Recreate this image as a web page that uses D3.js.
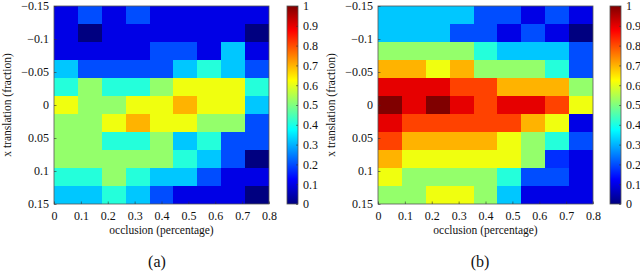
<!DOCTYPE html>
<html>
<head>
<meta charset="utf-8">
<script src="https://cdn.jsdelivr.net/npm/d3@7"></script>
<style>
  body { margin: 0; background: #fff; }
  svg text { font-family: "Liberation Serif", "Times New Roman", "DejaVu Serif", serif !important; fill: #111; }
</style>
</head>
<body>
<svg id="chart" width="640" height="272"></svg>
<script>

// tick labels
const occlusionTicks = [0, 0.1, 0.2, 0.3, 0.4, 0.5, 0.6, 0.7, 0.8];
const translationTicks = [-0.15, -0.1, -0.05, 0, 0.05, 0.1, 0.15];
const colorTicks = [0, 0.1, 0.2, 0.3, 0.4, 0.5, 0.6, 0.7, 0.8, 0.9, 1];

// grid size (columns = occlusion, rows = translation)
const nCols = 9;
const nRows = 11;

// accuracy, rows from translation -0.15 (top) to 0.15 (bottom)
const accuracyA = [
  [0.10, 0.20, 0.10, 0.20, 0.10, 0.10, 0.10, 0.10, 0.10],
  [0.10, 0.00, 0.10, 0.10, 0.10, 0.10, 0.10, 0.10, 0.00],
  [0.10, 0.10, 0.10, 0.10, 0.20, 0.20, 0.10, 0.32, 0.10],
  [0.32, 0.20, 0.20, 0.20, 0.20, 0.32, 0.41, 0.32, 0.20],
  [0.41, 0.52, 0.41, 0.41, 0.52, 0.61, 0.61, 0.61, 0.41],
  [0.61, 0.52, 0.52, 0.61, 0.61, 0.70, 0.61, 0.61, 0.32],
  [0.52, 0.52, 0.61, 0.70, 0.61, 0.61, 0.52, 0.52, 0.20],
  [0.52, 0.52, 0.41, 0.41, 0.52, 0.32, 0.41, 0.20, 0.20],
  [0.52, 0.52, 0.52, 0.52, 0.52, 0.41, 0.32, 0.20, 0.00],
  [0.41, 0.41, 0.52, 0.41, 0.32, 0.32, 0.20, 0.10, 0.10],
  [0.32, 0.32, 0.41, 0.32, 0.20, 0.10, 0.10, 0.10, 0.00]
];

const accuracyB = [
  [0.32, 0.32, 0.32, 0.32, 0.20, 0.20, 0.10, 0.20, 0.10],
  [0.32, 0.32, 0.32, 0.20, 0.20, 0.10, 0.20, 0.10, 0.00],
  [0.52, 0.52, 0.52, 0.52, 0.41, 0.32, 0.32, 0.32, 0.20],
  [0.70, 0.70, 0.61, 0.70, 0.52, 0.52, 0.52, 0.41, 0.20],
  [0.90, 0.90, 0.90, 0.81, 0.81, 0.70, 0.70, 0.70, 0.52],
  [1.00, 0.90, 1.00, 0.90, 0.81, 0.90, 0.90, 0.81, 0.61],
  [0.90, 0.81, 0.81, 0.81, 0.81, 0.81, 0.70, 0.61, 0.10],
  [0.81, 0.70, 0.70, 0.70, 0.70, 0.61, 0.52, 0.41, 0.20],
  [0.70, 0.61, 0.61, 0.61, 0.61, 0.61, 0.52, 0.17, 0.10],
  [0.61, 0.52, 0.52, 0.52, 0.52, 0.41, 0.20, 0.20, 0.10],
  [0.52, 0.52, 0.61, 0.61, 0.52, 0.32, 0.10, 0.10, 0.10]
];

// jet colormap
const jetStops = [0, 0.125, 0.375, 0.625, 0.875, 1];
const jetColors = ["#000080", "#0000ff", "#00ffff", "#ffff00", "#ff0000", "#800000"];
const jet = d3.scaleLinear().domain(jetStops).range(jetColors).interpolate(d3.interpolateRgb);

const svg = d3.select("#chart");

// colorbar gradient (shared)
const grad = svg.append("defs").append("linearGradient")
  .attr("id", "jetGrad")
  .attr("x1", 0).attr("y1", 1).attr("x2", 0).attr("y2", 0);
grad.selectAll("stop")
  .data(jetStops)
  .enter()
  .append("stop")
  .attr("offset", d => d)
  .attr("stop-color", d => jet(d));

const fmt = d => String(d).replace("-", "\u2212");

function drawPanel(data, p) {

  const g = svg.append("g");

  const x = d3.scaleLinear().domain([0, 0.8]).range([p.left, p.right]);
  const y = d3.scaleLinear().domain([-0.15, 0.15]).range([p.top, p.bottom]);
  const cw = 0.8 / nCols;
  const rh = 0.3 / nRows;

  // cells
  const cells = [];
  data.forEach((row, r) => row.forEach((v, c) => cells.push({ r, c, v })));
  g.selectAll("rect.cell")
    .data(cells)
    .enter()
    .append("rect")
    .attr("class", "cell")
    .attr("x", d => x(d.c * cw))
    .attr("y", d => y(-0.15 + d.r * rh))
    .attr("width", x(cw) - x(0) + 0.4)
    .attr("height", y(rh) - y(0) + 0.4)
    .attr("fill", d => jet(d.v))
    .attr("shape-rendering", "crispEdges");

  // frame
  g.append("rect")
    .attr("x", p.left).attr("y", p.top)
    .attr("width", p.right - p.left).attr("height", p.bottom - p.top)
    .attr("fill", "none").attr("stroke", "#555").attr("stroke-width", 0.8);

  // axes
  const xAxis = d3.axisBottom(x).tickValues(occlusionTicks).tickFormat(fmt).tickSizeInner(-2.5).tickSizeOuter(0).tickPadding(7);
  const yAxis = d3.axisLeft(y).tickValues(translationTicks).tickFormat(fmt).tickSizeInner(-2.5).tickSizeOuter(0).tickPadding(5);

  const gx = g.append("g").attr("transform", `translate(0,${p.bottom})`).call(xAxis);
  const gy = g.append("g").attr("transform", `translate(${p.left},0)`).call(yAxis);
  [gx, gy].forEach(a => {
    a.attr("font-family", null);
    a.select(".domain").remove();
    a.selectAll(".tick line").attr("stroke", "#333").attr("stroke-width", 0.6);
    a.selectAll(".tick text").attr("font-size", 12).attr("fill", "#111");
  });

  // axis titles
  g.append("text")
    .attr("x", (p.left + p.right) / 2)
    .attr("y", 234)
    .attr("text-anchor", "middle")
    .attr("font-size", 11.5)
    .text("occlusion (percentage)");

  g.append("text")
    .attr("transform", `translate(${p.left - 43},${(p.top + p.bottom) / 2}) rotate(-90)`)
    .attr("text-anchor", "middle")
    .attr("font-size", 11.5)
    .text("x translation (fraction)");

  // colorbar
  const cb = d3.scaleLinear().domain([0, 1]).range([p.bottom, p.top]);
  g.append("rect")
    .attr("x", p.cbLeft).attr("y", p.top)
    .attr("width", p.cbWidth).attr("height", p.bottom - p.top)
    .attr("fill", "url(#jetGrad)")
    .attr("stroke", "#555").attr("stroke-width", 0.8);

  const cbAxis = d3.axisRight(cb).tickValues(colorTicks).tickFormat(fmt).tickSizeInner(-2).tickSizeOuter(0).tickPadding(5);
  const gc = g.append("g").attr("transform", `translate(${p.cbLeft + p.cbWidth},0)`).call(cbAxis);
  gc.attr("font-family", null);
  gc.select(".domain").remove();
  gc.selectAll(".tick line").attr("stroke", "#333").attr("stroke-width", 0.6);
  gc.selectAll(".tick text").attr("font-size", 12).attr("fill", "#111");

  // panel caption
  g.append("text")
    .attr("x", p.caption)
    .attr("y", 267)
    .attr("text-anchor", "middle")
    .attr("font-size", 16)
    .text(p.label);
}

drawPanel(accuracyA, { left: 54, right: 269, top: 6, bottom: 204, cbLeft: 287, cbWidth: 11, caption: 157, label: "(a)" });
drawPanel(accuracyB, { left: 378, right: 593, top: 6, bottom: 204, cbLeft: 610, cbWidth: 11, caption: 480, label: "(b)" });

</script>
</body>
</html>
